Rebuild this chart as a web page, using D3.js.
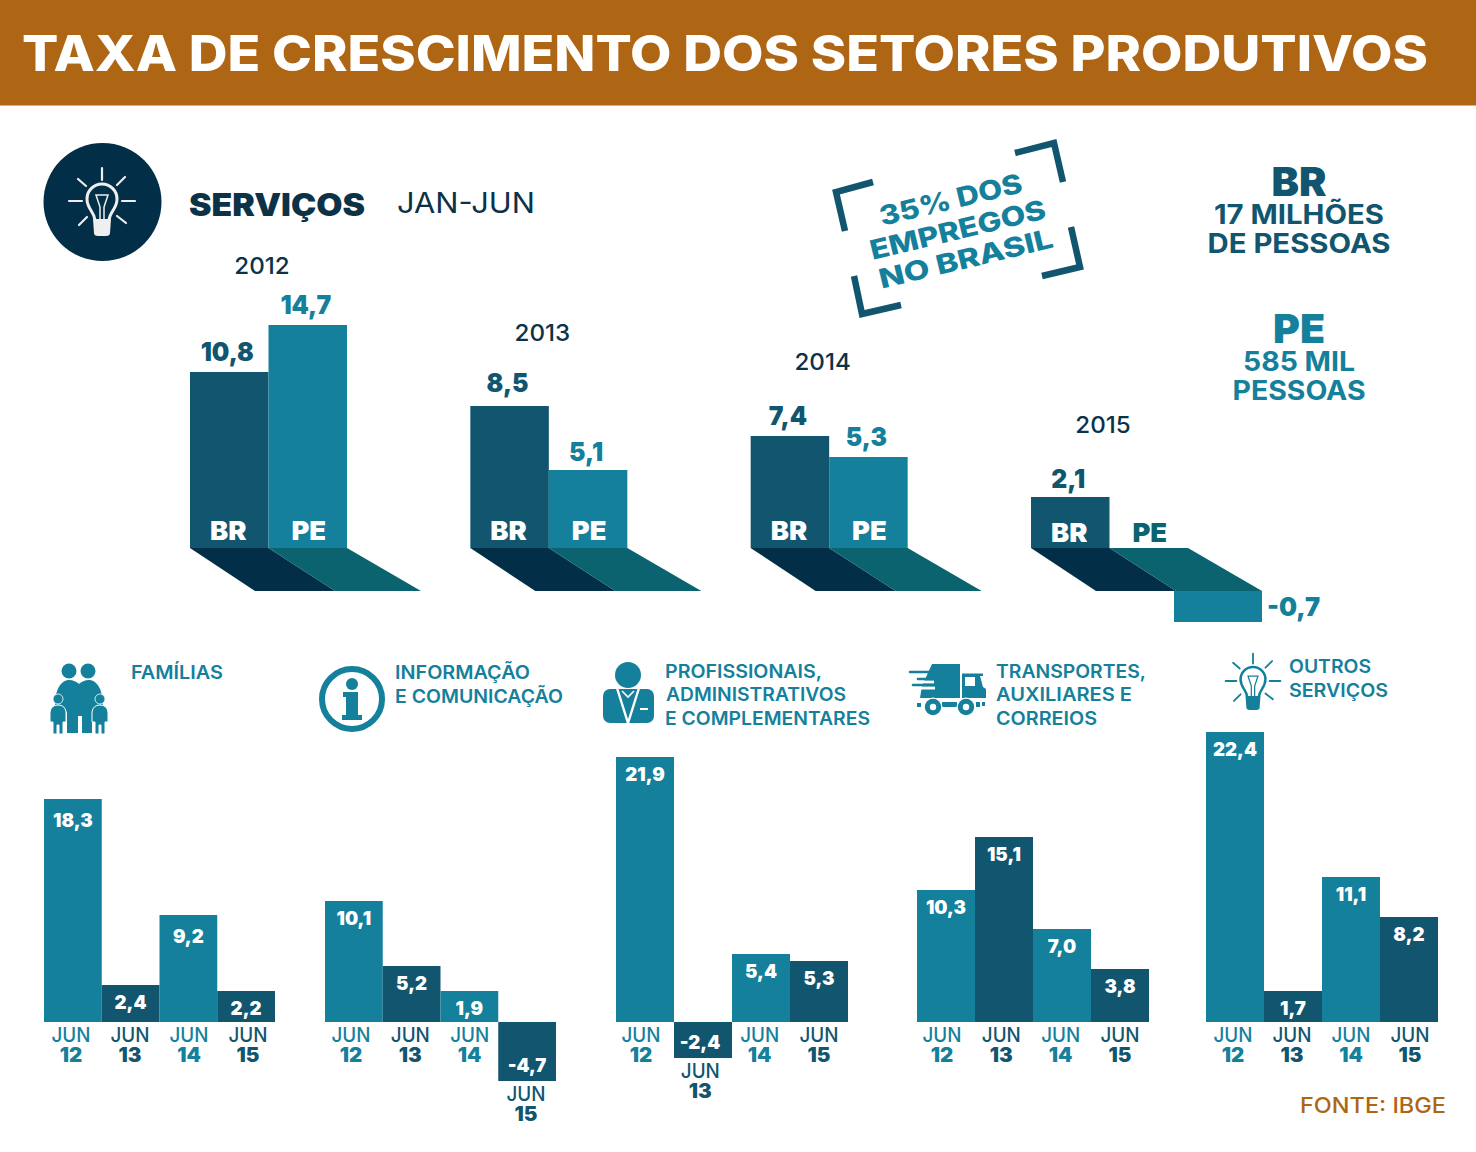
<!DOCTYPE html>
<html><head><meta charset="utf-8">
<script src="https://cdn.jsdelivr.net/npm/d3@7"></script>
<style>html,body{margin:0;padding:0;background:#fff}svg{display:block}text{font-family:Inter,"Open Sans",sans-serif}</style>
</head><body><div id="c"></div>
<script>
// ---------- data ----------
const years = ["2012","2013","2014","2015"];
const seriesTop = ["BR","PE"];
const brValues = [10.8,8.5,7.4,2.1];
const peValues = [14.7,5.1,5.3,-0.7];
const panels = ["Famílias","Informação e comunicação","Profissionais","Transportes","Outros serviços"];
const periods = ["12","13","14","15"];
const familias = [18.3,2.4,9.2,2.2];
const informacao = [10.1,5.2,1.9,-4.7];
const profissionais = [21.9,-2.4,5.4,5.3];
const transportes = [10.3,15.1,7.0,3.8];
const outros = [22.4,1.7,11.1,8.2];
const panelValues = [familias,informacao,profissionais,transportes,outros];

// ---------- style ----------
const W=1476,H=1152;
const C={head:"#ae6615",navy:"#022f47",br:"#12556f",pe:"#15809c",peShade:"#0a636f",text:"#0c3248"};
const fmt=v=>String(v.toFixed(1)).replace(".",",");
const svg=d3.select("#c").append("svg").attr("width",W).attr("height",H).attr("viewBox",[0,0,W,H]);

// Text helper: wide geometric face is approximated with Inter + a horizontal fit.
function T(g,x,y,s,o={}){
  const t=g.append("text").attr("x",x).attr("y",y).text(s)
    .attr("font-size",o.size||20).attr("font-weight",o.w||700).attr("fill",o.fill||C.text)
    .attr("text-anchor",o.a||"start");
  const n=t.node(), natural=n.getComputedTextLength();
  const len=o.len||natural*(o.k||1.1);
  t.attr("textLength",len).attr("lengthAdjust","spacingAndGlyphs");
  return t;
}

// ---------- header ----------
svg.append("rect").attr("width",W).attr("height",105.5).attr("fill",C.head);
T(svg,22,71,"TAXA DE CRESCIMENTO DOS SETORES PRODUTIVOS",{size:50,w:800,fill:"#fff",len:1406});

// ---------- bulb icon ----------
function bulb(g,cx,cy,k,col){
  const b=g.append("g").attr("transform",`translate(${cx},${cy}) scale(${k})`);
  [[0,-33,0,-21],[-33,0,-20,0],[33,0,20,0],[-24,-22,-16,-15],[23,-24,15,-16],[-23,24,-15,16],[24,22,15,15]]
   .forEach(r=>b.append("line").attr("x1",r[0]).attr("y1",r[1]).attr("x2",r[2]).attr("y2",r[3]).attr("stroke",col).attr("stroke-width",2.2).attr("stroke-linecap","round"));
  b.append("path").attr("d","M-7,19 C-8,10 -15,8 -15,-2 A15,15 0 1 1 15,-2 C15,8 8,10 7,19").attr("fill","none").attr("stroke",col).attr("stroke-width",3);
  b.append("path").attr("d","M-2,19 L-2,6 L-6,-6 H6 L2,6 L2,19").attr("fill","none").attr("stroke",col).attr("stroke-width",1.5);
  b.append("path").attr("d","M-9,18 H9 L8,32 Q8,35 4,35 H-4 Q-8,35 -8,32 Z").attr("fill",col);
}
svg.append("circle").attr("cx",102.5).attr("cy",202).attr("r",59).attr("fill",C.navy);
bulb(svg,102,201,1,"#f0eeee");
T(svg,189,216,"SERVIÇOS",{size:31,w:900,fill:C.text,len:176});
T(svg,397,213,"JAN-JUN",{size:28,w:400,fill:C.text,len:138});

// ---------- main bars ----------
const baseY=548, shadowH=43;
// The source artwork is not drawn strictly to proportion, so the height scale
// follows the drawn proportions through a monotone piecewise-linear range.
const yTop=d3.scaleLinear().domain([-0.7,0,2.1,5.1,5.3,7.4,8.5,10.8,14.7]).range([-31,0,51,78,91,112,142,176,223]);
const yearX=d3.scalePoint().domain(years).range([190,1031]);
const yearLabelY=[274,341,370,433];
const mainData=years.map((y,i)=>({year:y,i,br:brValues[i],pe:peValues[i]}));
const groups=svg.selectAll("g.yr").data(mainData).join("g").attr("class","yr");
const vOpt={size:26,w:900,k:0.95};
const gapAbove=h=>h>130&&h<150?14:h<90&&h>40?9:11;
groups.each(function(d){
  const g=d3.select(this), x0=yearX(d.year);
  const xb=d3.scaleBand().domain(seriesTop).range([x0,x0+157]);
  const bw=xb.bandwidth(), X=s=>xb(s);
  T(g,x0+72,yearLabelY[d.i],d.year,{size:23,w:500,a:"middle",fill:C.text,k:1.05});
  // floor shadows
  const bl=x0+65, mid=x0+145, br=x0+231;
  g.append("path").attr("d",`M${X("BR")},${baseY}H${X("BR")+bw}L${mid},${baseY+shadowH}H${bl}Z`).attr("fill",C.navy);
  g.append("path").attr("d",`M${X("PE")},${baseY}H${X("PE")+bw}L${br},${baseY+shadowH}H${mid}Z`).attr("fill",C.peShade);
  // BR bar
  g.append("rect").attr("x",X("BR")).attr("width",bw).attr("y",baseY-yTop(d.br)).attr("height",yTop(d.br)).attr("fill",C.br);
  T(g,X("BR")+bw/2-2,baseY-yTop(d.br)-gapAbove(yTop(d.br)),fmt(d.br),{...vOpt,a:"middle",fill:C.br});
  const neg=d.pe<0;
  T(g,X("BR")+bw/2-1,neg?542:540,"BR",{size:26,w:900,a:"middle",fill:"#fff",k:1.05});
  if(!neg){
    g.append("rect").attr("x",X("PE")).attr("width",bw).attr("y",baseY-yTop(d.pe)).attr("height",yTop(d.pe)).attr("fill",C.pe);
    T(g,X("PE")+bw/2-2,baseY-yTop(d.pe)-gapAbove(yTop(d.pe)),fmt(d.pe),{...vOpt,a:"middle",fill:C.pe});
    T(g,X("PE")+bw/2+1,540,"PE",{size:26,w:900,a:"middle",fill:"#fff",k:1.05});
  }else{
    const lx=mid-2;
    g.append("rect").attr("x",lx).attr("width",br-lx).attr("y",baseY+shadowH).attr("height",-yTop(d.pe)).attr("fill",C.pe);
    T(g,br+5,baseY+shadowH+25,fmt(d.pe),{size:26,w:900,fill:C.pe,len:53});
    T(g,X("PE")+bw/2+1,542,"PE",{size:26,w:900,a:"middle",fill:C.peShade,k:1.05});
  }
});

// ---------- stamp ----------
const st=svg.append("g").attr("fill","none").attr("stroke",C.br).attr("stroke-width",6.5).attr("stroke-linejoin","miter");
[[[873,182],[836,192],[845,231]],[[1015,153],[1054,143],[1063,182]],[[1071,227],[1080,267],[1042,276]],[[854,276],[862,314],[901,305]]]
 .forEach(p=>st.append("path").attr("d",d3.line()(p)));
[["35% DOS",953,199,146],["EMPREGOS",960,229,180],["NO BRASIL",968,258,178]].forEach(a=>{
  T(svg,0,0,a[0],{size:27,w:800,fill:C.pe,a:"middle",len:a[3]}).attr("transform",`translate(${a[1]},${a[2]+10}) rotate(-13.5)`);
});

// ---------- side totals ----------
T(svg,1299,196,"BR",{size:40,w:900,a:"middle",fill:C.br,len:55});
T(svg,1299,224,"17 MILHÕES",{size:27,w:700,a:"middle",fill:C.br,len:170});
T(svg,1299,253,"DE PESSOAS",{size:27,w:700,a:"middle",fill:C.br,len:183});
T(svg,1299,343,"PE",{size:40,w:900,a:"middle",fill:C.pe,len:52});
T(svg,1299,371,"585 MIL",{size:27,w:700,a:"middle",fill:C.pe,len:112});
T(svg,1299,400,"PESSOAS",{size:27,w:700,a:"middle",fill:C.pe,len:133});

// ---------- small panels ----------
const base2=1022;
const ySmall=d3.scaleLinear()
  .domain([-4.7,-2.4,0,1.7,2.2,2.4,3.8,5.2,5.3,5.4,7,8.2,9.2,10.1,10.3,11.1,15.1,18.3,21.9,22.4])
  .range([-59,-36,0,31,31,37,53,56,61,68,93,105,107,121,132,145,185,223,265,290]);
const panelX=[[44,275],[325,556],[616,848],[917,1149],[1206,1438]];
const labelX=[[71,248],[351,529],[641,819],[942,1120],[1233,1410]];
panelValues.forEach((vals,pi)=>{
  const x=d3.scaleBand().domain(periods).range(panelX[pi]);
  const lx=d3.scalePoint().domain(periods).range(labelX[pi]);
  const colorOf=i=>i%2===0?C.pe:C.br;
  const rows=vals.map((v,i)=>({v,i,p:periods[i]}));
  const g=svg.append("g").attr("class","panel").attr("aria-label",panels[pi]);
  g.selectAll("rect").data(rows).join("rect")
    .attr("x",d=>x(d.p)).attr("width",x.bandwidth())
    .attr("y",d=>d.v>=0?base2-ySmall(d.v):base2)
    .attr("height",d=>Math.abs(ySmall(d.v)))
    .attr("fill",d=>colorOf(d.i));
  rows.forEach(d=>{
    const h=ySmall(d.v), cx=x(d.p)+x.bandwidth()/2;
    const ly=d.v>=0? base2-h+(d.v==18.3||d.v==9.2?28:24) : base2-h-9;
    T(g,cx-(d.v<0&&pi==2?3:0),ly,fmt(d.v),{size:19,w:900,a:"middle",fill:"#fff",k:0.98});
    const off=d.v<0?-h:0;
    const jx=lx(d.p)-(pi==1&&d.i==3?3:0);
    T(g,jx,base2+19.5+off,"JUN",{size:20.5,w:500,a:"middle",fill:colorOf(d.i),len:39});
    T(g,jx,base2+40+off,d.p,{size:19.5,w:900,a:"middle",fill:colorOf(d.i),k:1.05});
  });
});

// ---------- panel captions ----------
const cap=(x,y,s,len)=>T(svg,x,y,s,{size:18.5,w:600,fill:C.pe,len});
cap(131,679,"FAMÍLIAS",92);
cap(395,679,"INFORMAÇÃO",135); cap(395,703,"E COMUNICAÇÃO",168);
cap(665,678,"PROFISSIONAIS,",157); cap(666,701,"ADMINISTRATIVOS",180); cap(665,725,"E COMPLEMENTARES",205);
cap(996,678,"TRANSPORTES,",150); cap(996,701,"AUXILIARES E",136); cap(996,725,"CORREIOS",101);
cap(1289,673,"OUTROS",82); cap(1289,697,"SERVIÇOS",99);

// ---------- small icons ----------
const ic=svg.append("g").attr("fill",C.pe);
// family
[[69,671,7.5],[88,671,7.5]].forEach(c=>ic.append("circle").attr("cx",c[0]).attr("cy",c[1]).attr("r",c[2]));
ic.append("path").attr("d","M55,706 C55,688 62,680 69,680 C73,680 77,682 79,684 C81,682 85,680 89,680 C96,680 103,688 103,706 L92,712 L92,733 L82,733 L82,716 L78,716 L78,733 L67,733 L67,712 Z");
[0,42].forEach(dx=>{
  const k=ic.append("g").attr("transform",`translate(${dx},0)`);
  k.append("path").attr("d","M50,722 L50,712 Q51,705 58,705 Q65,705 66,712 L66,722 L63,722 L63,734 L59,734 L59,725 L57,725 L57,734 L53,734 L53,722 Z").attr("stroke","#fff").attr("stroke-width",1);
  k.append("circle").attr("cx",58).attr("cy",699).attr("r",5).attr("stroke","#fff").attr("stroke-width",0.8);
});
// info
ic.append("circle").attr("cx",352).attr("cy",699).attr("r",30).attr("fill","none").attr("stroke",C.pe).attr("stroke-width",6);
ic.append("circle").attr("cx",352).attr("cy",684).attr("r",6);
ic.append("path").attr("d","M343,692 H358 V715 H362 V720 H342 V715 H346 V697 H343 Z");
// person
ic.append("circle").attr("cx",628).attr("cy",675).attr("r",13);
ic.append("rect").attr("x",603).attr("y",689).attr("width",51).attr("height",34).attr("rx",7);
ic.append("path").attr("d","M617,688 L628,723 L639,688").attr("fill","none").attr("stroke","#fff").attr("stroke-width",2.4);
ic.append("path").attr("d","M622,691 L628,697 L634,691").attr("fill","none").attr("stroke","#fff").attr("stroke-width",1.6);
ic.append("path").attr("d","M640,709 H648").attr("stroke","#fff").attr("stroke-width",2);
// truck
ic.append("path").attr("d","M932,664 H960 V698 H920 L922,686 Z");
[[910,933,672],[918,942,679],[913,943,685]].forEach(l=>{
  ic.append("line").attr("x1",l[0]-2).attr("x2",l[1]-8).attr("y1",l[2]+3).attr("y2",l[2]+3).attr("stroke","#fff").attr("stroke-width",3);
  ic.append("line").attr("x1",l[0]).attr("x2",l[1]).attr("y1",l[2]).attr("y2",l[2]).attr("stroke",C.pe).attr("stroke-width",2.6).attr("stroke-linecap","round");
});
ic.append("path").attr("d","M962,673.5 H983 V676 H980 L983,687 L986,689 V698 H962 Z");
ic.append("rect").attr("x",965).attr("y",677).attr("width",10).attr("height",9).attr("fill","#fff");
[[917,703,4,4],[942,702,15,5],[976,702,4,5],[982,702,3,4]].forEach(r=>ic.append("rect").attr("x",r[0]).attr("y",r[1]).attr("width",r[2]).attr("height",r[3]));
[[933,707],[966,707]].forEach(c=>{
  ic.append("circle").attr("cx",c[0]).attr("cy",c[1]).attr("r",9.5).attr("fill","#fff");
  ic.append("circle").attr("cx",c[0]).attr("cy",c[1]).attr("r",8.2);
  ic.append("circle").attr("cx",c[0]).attr("cy",c[1]).attr("r",3.2).attr("fill","#fff");
});
bulb(svg,1253,681,0.83,C.pe);

// ---------- source ----------
T(svg,1446,1113,"FONTE: IBGE",{size:21.5,w:500,a:"end",fill:C.head,len:146});
</script></body></html>
